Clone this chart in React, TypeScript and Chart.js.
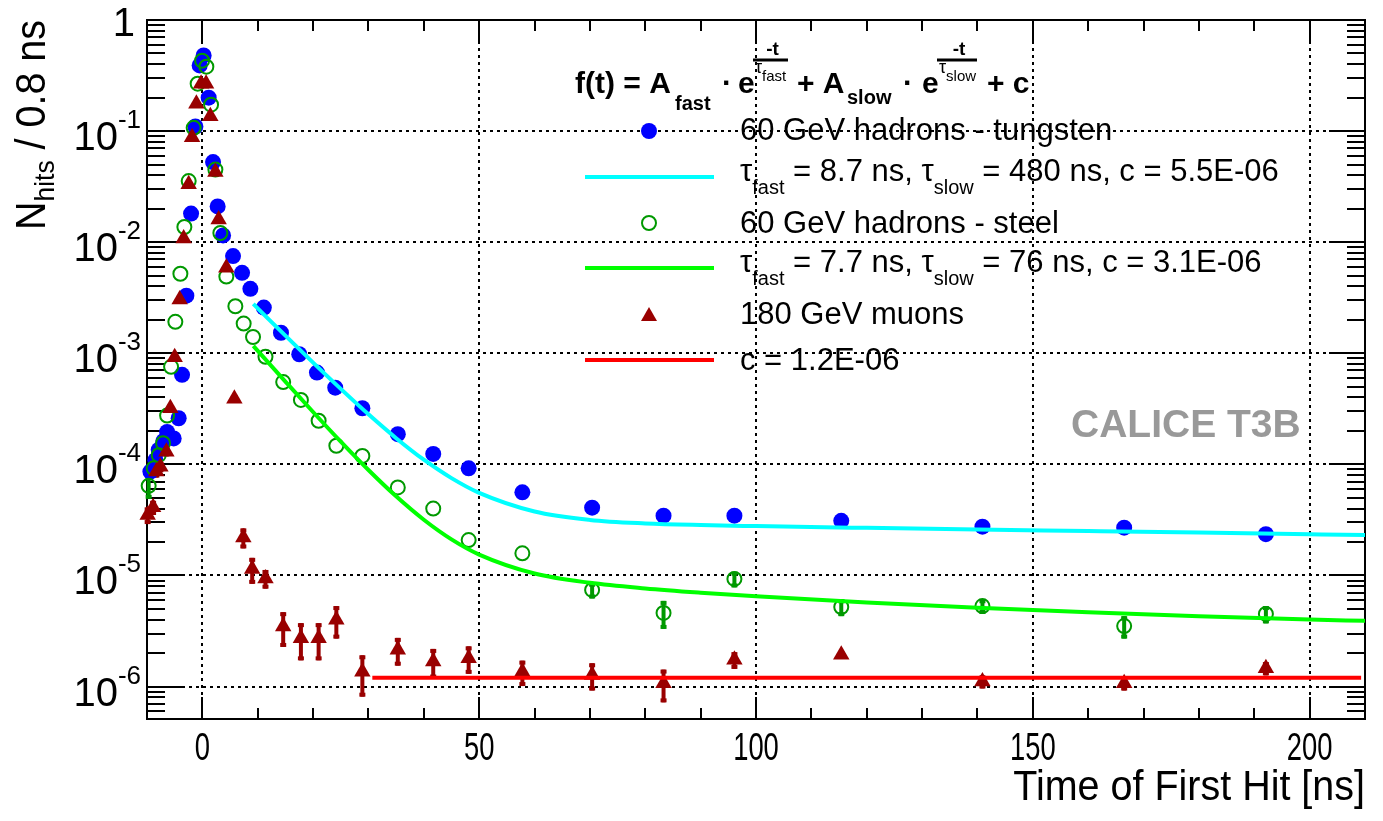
import React, { useEffect, useRef } from "react";
import { Chart, registerables } from "chart.js";

Chart.register(...registerables);

const FONT = '"Liberation Sans", Arial, Helvetica, sans-serif';

// Axis ranges and tick layout
const X_RANGE = [-10, 210];
const Y_RANGE = [5.1e-7, 1];
const X_MAJOR = [0, 50, 100, 150, 200];
const X_MINOR_STEP = 10;
const Y_DECADES = [-6, -5, -4, -3, -2, -1, 0];
const X_TITLE = "Time of First Hit [ns]";
const Y_TITLE_MAIN = "N";
const Y_TITLE_SUB = "hits";
const Y_TITLE_REST = " / 0.8 ns";

// 60 GeV hadrons - tungsten
const TUNGSTEN_T = [
  -9.39, -8.49, -7.89, -7.04, -6.37, -5.18, -4.28, -3.67, -2.89, -2.04, -1.26, -0.49, 0.23, 1.14, 1.93,
  2.76, 3.74, 5.54, 7.17, 8.67, 11.1, 14.2, 17.5, 20.7, 24.0, 28.9, 35.3, 41.7, 48.1, 57.8, 70.4, 83.3,
  96.1, 115.4, 140.9, 166.5, 192.1,
];
const TUNGSTEN_N = [
  8.6e-5, 1.09e-4, 1.35e-4, 1.62e-4, 1.96e-4, 1.71e-4, 2.6e-4, 6.4e-4, 3.3e-3, 0.0181, 0.11, 0.39, 0.48, 0.2,
  0.0526, 0.021, 0.0115, 7.5e-3, 5.3e-3, 3.8e-3, 2.58e-3, 1.53e-3, 9.8e-4, 6.7e-4, 4.9e-4, 3.2e-4, 1.87e-4,
  1.24e-4, 9.2e-5, 5.6e-5, 4.07e-5, 3.45e-5, 3.45e-5, 3.1e-5, 2.75e-5, 2.69e-5, 2.35e-5,
];

// 60 GeV hadrons - steel
const STEEL_T = [
  -9.7, -8.79, -7.89, -7.1, -6.37, -5.65, -4.88, -3.97, -3.25, -2.47, -1.57, -0.85, -0.05, 0.72, 1.57, 2.35,
  3.25, 4.33, 5.96, 7.46, 9.15, 11.4, 14.6, 17.8, 21.0, 24.2, 28.9, 35.3, 41.7, 48.1, 57.8, 70.4, 83.3, 96.1,
  115.4, 140.9, 166.5, 192.1,
];
const STEEL_N = [
  6.4e-5, 9.2e-5, 1.21e-4, 1.55e-4, 2.75e-4, 7.55e-4, 1.92e-3, 5.2e-3, 0.0137, 0.0355, 0.107, 0.267, 0.43,
  0.38, 0.173, 0.045, 0.0121, 4.9e-3, 2.65e-3, 1.85e-3, 1.4e-3, 9.3e-4, 5.5e-4, 3.8e-4, 2.47e-4, 1.47e-4,
  1.19e-4, 6.2e-5, 4.0e-5, 2.08e-5, 1.58e-5, 7.4e-6, 4.6e-6, 9.3e-6, 5.2e-6, 5.3e-6, 3.5e-6, 4.5e-6,
];
const STEEL_ERR = [
  1.5e-5, 0, 0, 0, 0, 0, 0, 0, 0, 0, 0, 0, 0, 0, 0, 0, 0, 0, 0, 0, 0, 0, 0, 0, 0, 0, 0, 0, 0, 0, 0,
  1.2e-6, 1.3e-6, 1.5e-6, 0.9e-6, 0.8e-6, 0.8e-6, 0.8e-6,
];

// 180 GeV muons
const MUON_T = [
  -9.88, -8.9, -8.31, -7.58, -6.5, -5.78, -5.0, -4.1, -3.38, -2.47, -1.86, -1.08, -0.23, 0.67, 1.44, 2.35,
  2.94, 4.33, 5.78, 7.4, 9.0, 11.4, 14.6, 17.8, 21.0, 24.2, 28.9, 35.3, 41.7, 48.1, 57.8, 70.4, 83.3, 96.1,
  115.4, 140.9, 166.5, 192.1,
];
const MUON_N = [
  3.5e-5, 4.1e-5, 8.6e-5, 9.5e-5, 1.3e-4, 3.2e-4, 9.2e-4, 3.05e-3, 0.0108, 0.0332, 0.088, 0.176, 0.267, 0.267,
  0.136, 0.0428, 0.016, 5.9e-3, 3.9e-4, 2.2e-5, 1.14e-5, 9.4e-6, 3.47e-6, 2.72e-6, 2.72e-6, 4.0e-6, 1.36e-6,
  2.14e-6, 1.68e-6, 1.8e-6, 1.36e-6, 1.27e-6, 1.07e-6, 1.74e-6, 1.93e-6, 1.11e-6, 1.07e-6, 1.46e-6,
];
const MUON_ERR = [
  0.6e-5, 0.6e-5, 1.0e-5, 1.0e-5, 1.2e-5, 0, 0, 0, 0, 0, 0, 0, 0, 0, 0, 0, 0, 0, 3e-5, 4.5e-6, 3.0e-6, 1.8e-6,
  1.2e-6, 1.0e-6, 1.0e-6, 1.3e-6, 0.55e-6, 0.6e-6, 0.5e-6, 0.5e-6, 0.35e-6, 0.35e-6, 0.35e-6, 0.3e-6, 0.15e-6,
  0.15e-6, 0.15e-6, 0.2e-6,
];

// Fitted curves, sampled along the fit range
const FIT_T = [9.2, 12, 15, 20, 25, 30, 35, 40, 45, 50, 60, 70, 80, 90, 100, 120, 140, 160, 180, 200, 210];
const FIT_TUNGSTEN = [
  2.78e-3, 2.02e-3, 1.44e-3, 8.24e-4, 4.78e-4, 2.82e-4, 1.72e-4, 1.1e-4, 7.51e-5, 5.53e-5, 3.76e-5, 3.16e-5,
  2.94e-5, 2.84e-5, 2.78e-5, 2.68e-5, 2.59e-5, 2.51e-5, 2.43e-5, 2.35e-5, 2.31e-5,
];
const FIT_STEEL = [
  1.165e-3, 8.14e-4, 5.56e-4, 2.96e-4, 1.6e-4, 8.89e-5, 5.15e-5, 3.17e-5, 2.11e-5, 1.54e-5, 1.04e-5, 8.58e-6,
  7.64e-6, 7.0e-6, 6.5e-6, 5.72e-6, 5.11e-6, 4.65e-6, 4.29e-6, 4.01e-6, 3.9e-6,
];
const FIT_MUON_T = [30.7, 209.3];
const FIT_MUON = [1.2e-6, 1.2e-6];

// Legend content
const LEGEND_TUNGSTEN = "60 GeV hadrons - tungsten";
const LEGEND_STEEL = "60 GeV hadrons - steel";
const LEGEND_MUON = "180 GeV muons";
const FIT_PARAMS_TUNGSTEN = ["8.7", "480", "5.5E-06"];
const FIT_PARAMS_STEEL = ["7.7", "76", "3.1E-06"];
const FIT_PARAM_MUON = "1.2E-06";
const WATERMARK = "CALICE T3B";

const COLORS = {
  tungsten: "#0000ff",
  steel: "#009900",
  muon: "#990000",
  fitTungsten: "#00ffff",
  fitSteel: "#00ff00",
  fitMuon: "#ff0000",
};

const pts = (xs: number[], ys: number[]) => xs.map((x, i) => ({ x, y: ys[i] }));

function drawErrorBars(ctx: CanvasRenderingContext2D, chart: any, xs: number[], ys: number[], errs: number[], color: string) {
  const sx = chart.scales.x;
  const sy = chart.scales.y;
  ctx.fillStyle = color;
  ctx.strokeStyle = color;
  ctx.lineWidth = 4;
  for (let i = 0; i < xs.length; i++) {
    const e = errs[i];
    if (!e) continue;
    const px = sx.getPixelForValue(xs[i]);
    const pTop = sy.getPixelForValue(ys[i] + e);
    const pBot = sy.getPixelForValue(Math.max(ys[i] - e, Y_RANGE[0]));
    ctx.beginPath();
    ctx.moveTo(px, pTop);
    ctx.lineTo(px, pBot);
    ctx.stroke();
    ctx.fillRect(px - 3, pTop, 6, 4);
    ctx.fillRect(px - 3, pBot - 4, 6, 4);
  }
}

function drawTauLine(ctx: CanvasRenderingContext2D, x: number, base: number, params: string[]) {
  const big = `31px ${FONT}`;
  const small = `20px ${FONT}`;
  const parts: [string, string, number][] = [
    ["\u03c4", big, 0],
    ["fast", small, 13],
    [` = ${params[0]} ns, `, big, 0],
    ["\u03c4", big, 0],
    ["slow", small, 13],
    [` = ${params[1]} ns, c = ${params[2]}`, big, 0],
  ];
  let cx = x;
  for (const [t, f, dy] of parts) {
    ctx.font = f;
    ctx.fillText(t, cx, base + dy);
    cx += ctx.measureText(t).width;
  }
}

function drawExpFraction(ctx: CanvasRenderingContext2D, x0: number, x1: number, sub: string) {
  ctx.font = `bold 19px ${FONT}`;
  const w = ctx.measureText("-t").width;
  ctx.fillText("-t", (x0 + x1) / 2 - w / 2 + 2, 55);
  ctx.fillRect(x0, 58.5, x1 - x0, 3);
  ctx.font = `18px ${FONT}`;
  ctx.fillText("\u03c4", x0 + 2, 73);
  const tw = ctx.measureText("\u03c4").width;
  ctx.font = `15px ${FONT}`;
  ctx.fillText(sub, x0 + 2 + tw, 81);
}

const rootStyle = {
  id: "rootStyle",
  beforeDatasetsDraw(chart: any) {
    const ctx: CanvasRenderingContext2D = chart.ctx;
    const sx = chart.scales.x;
    const sy = chart.scales.y;
    const { left, right, top, bottom } = chart.chartArea;
    ctx.save();
    ctx.strokeStyle = "#000";
    ctx.lineWidth = 2;

    // dotted grid
    ctx.setLineDash([3, 4]);
    ctx.beginPath();
    for (const v of X_MAJOR) {
      const p = Math.round(sx.getPixelForValue(v));
      ctx.moveTo(p, top);
      ctx.lineTo(p, bottom);
    }
    for (const d of Y_DECADES) {
      const p = Math.round(sy.getPixelForValue(Math.pow(10, d)));
      if (p > top + 2 && p < bottom - 2) {
        ctx.moveTo(left, p);
        ctx.lineTo(right, p);
      }
    }
    ctx.stroke();
    ctx.setLineDash([]);

    // ticks on all four sides
    ctx.beginPath();
    const nx = Math.round((X_RANGE[1] - X_RANGE[0]) / X_MINOR_STEP);
    for (let i = 0; i <= nx; i++) {
      const v = X_RANGE[0] + i * X_MINOR_STEP;
      const p = Math.round(sx.getPixelForValue(v));
      const len = X_MAJOR.includes(v) ? 22 : 11;
      ctx.moveTo(p, bottom);
      ctx.lineTo(p, bottom - len);
      ctx.moveTo(p, top);
      ctx.lineTo(p, top + len);
    }
    for (let d = -7; d <= 0; d++) {
      for (let k = 1; k <= 9; k++) {
        const v = k * Math.pow(10, d);
        if (v < Y_RANGE[0] || v > Y_RANGE[1]) continue;
        const p = Math.round(sy.getPixelForValue(v));
        const len = k === 1 ? 36 : 18;
        ctx.moveTo(left, p);
        ctx.lineTo(left + len, p);
        ctx.moveTo(right, p);
        ctx.lineTo(right - len, p);
      }
    }
    ctx.stroke();
    ctx.strokeRect(left, top, right - left, bottom - top);

    drawErrorBars(ctx, chart, STEEL_T, STEEL_N, STEEL_ERR, COLORS.steel);
    drawErrorBars(ctx, chart, MUON_T, MUON_N, MUON_ERR, COLORS.muon);
    ctx.restore();
  },
  afterDraw(chart: any) {
    const ctx: CanvasRenderingContext2D = chart.ctx;
    const sx = chart.scales.x;
    const sy = chart.scales.y;
    const { left, right, top, bottom } = chart.chartArea;
    ctx.save();
    ctx.fillStyle = "#000";
    ctx.textBaseline = "alphabetic";

    // x tick labels (narrow)
    ctx.font = `38px ${FONT}`;
    ctx.textAlign = "center";
    for (const v of X_MAJOR) {
      ctx.save();
      ctx.translate(sx.getPixelForValue(v), bottom + 41);
      ctx.scale(0.72, 1);
      ctx.fillText(String(v), 0, 0);
      ctx.restore();
    }

    // y tick labels as powers of ten
    ctx.textAlign = "left";
    for (const d of Y_DECADES) {
      const p = sy.getPixelForValue(Math.pow(10, d));
      if (d === 0) {
        ctx.font = `40px ${FONT}`;
        const w = ctx.measureText("1").width;
        ctx.fillText("1", left - 12 - w, p + 16);
        continue;
      }
      ctx.font = `40px ${FONT}`;
      const wb = ctx.measureText("10").width;
      ctx.font = `26px ${FONT}`;
      const exp = String(d);
      const we = ctx.measureText(exp).width;
      const x0 = left - 6 - wb - we;
      ctx.font = `40px ${FONT}`;
      ctx.fillText("10", x0, p + 19);
      ctx.font = `26px ${FONT}`;
      ctx.fillText(exp, x0 + wb, p - 3);
    }

    // x title
    ctx.font = `42px ${FONT}`;
    ctx.textAlign = "right";
    ctx.save();
    ctx.translate(right, bottom + 81);
    ctx.scale(0.94, 1);
    ctx.fillText(X_TITLE, 0, 0);
    ctx.restore();

    // y title, rotated
    ctx.textAlign = "left";
    ctx.font = `42px ${FONT}`;
    const wN = ctx.measureText(Y_TITLE_MAIN).width;
    const wR = ctx.measureText(Y_TITLE_REST).width;
    ctx.font = `28px ${FONT}`;
    const wS = ctx.measureText(Y_TITLE_SUB).width;
    const sq = 0.94;
    const total = (wN + wS + wR) * sq;
    ctx.save();
    ctx.translate(45, top + total);
    ctx.rotate(-Math.PI / 2);
    ctx.scale(sq, 1);
    ctx.font = `42px ${FONT}`;
    ctx.fillText(Y_TITLE_MAIN, 0, 0);
    ctx.font = `28px ${FONT}`;
    ctx.fillText(Y_TITLE_SUB, wN, 9);
    ctx.font = `42px ${FONT}`;
    ctx.fillText(Y_TITLE_REST, wN + wS, 0);
    ctx.restore();

    // legend header: fit function
    ctx.font = `bold 30px ${FONT}`;
    ctx.fillText("f(t) = A", 575, 93);
    ctx.font = `bold 20px ${FONT}`;
    ctx.fillText("fast", 675, 110);
    ctx.font = `bold 30px ${FONT}`;
    ctx.fillText("\u00b7", 722, 93);
    ctx.fillText("e", 738, 93);
    drawExpFraction(ctx, 753, 788, "fast");
    ctx.font = `bold 30px ${FONT}`;
    ctx.fillText("+ A", 797, 93);
    ctx.font = `bold 20px ${FONT}`;
    ctx.fillText("slow", 847, 104);
    ctx.font = `bold 30px ${FONT}`;
    ctx.fillText("\u00b7", 903, 93);
    ctx.fillText("e", 922, 93);
    drawExpFraction(ctx, 937, 977, "slow");
    ctx.font = `bold 30px ${FONT}`;
    ctx.fillText("+ c", 987, 93);

    // legend symbols
    const mx = 649;
    ctx.fillStyle = COLORS.tungsten;
    ctx.beginPath();
    ctx.arc(mx, 131, 8, 0, Math.PI * 2);
    ctx.fill();
    ctx.lineWidth = 4;
    ctx.strokeStyle = COLORS.fitTungsten;
    ctx.beginPath();
    ctx.moveTo(585, 177);
    ctx.lineTo(714, 177);
    ctx.stroke();
    ctx.lineWidth = 2;
    ctx.strokeStyle = COLORS.steel;
    ctx.beginPath();
    ctx.arc(mx, 223, 7, 0, Math.PI * 2);
    ctx.stroke();
    ctx.lineWidth = 4;
    ctx.strokeStyle = COLORS.fitSteel;
    ctx.beginPath();
    ctx.moveTo(585, 268);
    ctx.lineTo(714, 268);
    ctx.stroke();
    ctx.fillStyle = COLORS.muon;
    ctx.beginPath();
    ctx.moveTo(mx, 307);
    ctx.lineTo(mx + 8, 321);
    ctx.lineTo(mx - 8, 321);
    ctx.closePath();
    ctx.fill();
    ctx.strokeStyle = COLORS.fitMuon;
    ctx.beginPath();
    ctx.moveTo(585, 360);
    ctx.lineTo(714, 360);
    ctx.stroke();

    // legend text
    ctx.fillStyle = "#000";
    ctx.font = `31px ${FONT}`;
    ctx.fillText(LEGEND_TUNGSTEN, 740, 140);
    drawTauLine(ctx, 740, 181, FIT_PARAMS_TUNGSTEN);
    ctx.font = `31px ${FONT}`;
    ctx.fillText(LEGEND_STEEL, 740, 233);
    drawTauLine(ctx, 740, 272, FIT_PARAMS_STEEL);
    ctx.font = `31px ${FONT}`;
    ctx.fillText(LEGEND_MUON, 740, 324);
    ctx.fillText(`c = ${FIT_PARAM_MUON}`, 740, 370);

    // experiment label
    ctx.fillStyle = "#999999";
    ctx.font = `bold 39px ${FONT}`;
    ctx.fillText(WATERMARK, 1071, 437);
    ctx.restore();
  },
};

export default function App() {
  const ref = useRef<HTMLCanvasElement | null>(null);

  useEffect(() => {
    if (!ref.current) return;
    const chart = new Chart(ref.current, {
      type: "scatter",
      data: {
        datasets: [
          {
            label: LEGEND_TUNGSTEN,
            data: pts(TUNGSTEN_T, TUNGSTEN_N),
            pointStyle: "circle",
            pointRadius: 8,
            pointBackgroundColor: COLORS.tungsten,
            pointBorderWidth: 0,
            showLine: false,
            clip: false,
            order: 6,
          },
          {
            label: "fit tungsten",
            data: pts(FIT_T, FIT_TUNGSTEN),
            showLine: true,
            borderColor: COLORS.fitTungsten,
            borderWidth: 4,
            pointRadius: 0,
            cubicInterpolationMode: "monotone",
            order: 5,
          },
          {
            label: LEGEND_STEEL,
            data: pts(STEEL_T, STEEL_N),
            pointStyle: "circle",
            pointRadius: 7,
            pointBackgroundColor: "rgba(0,0,0,0)",
            pointBorderColor: COLORS.steel,
            pointBorderWidth: 2,
            showLine: false,
            clip: false,
            order: 4,
          },
          {
            label: "fit steel",
            data: pts(FIT_T, FIT_STEEL),
            showLine: true,
            borderColor: COLORS.fitSteel,
            borderWidth: 4,
            pointRadius: 0,
            cubicInterpolationMode: "monotone",
            order: 3,
          },
          {
            label: LEGEND_MUON,
            data: pts(MUON_T, MUON_N),
            pointStyle: "triangle",
            pointRadius: 9.5,
            pointBackgroundColor: COLORS.muon,
            pointBorderWidth: 0,
            showLine: false,
            clip: false,
            order: 2,
          },
          {
            label: "fit muons",
            data: pts(FIT_MUON_T, FIT_MUON),
            showLine: true,
            borderColor: COLORS.fitMuon,
            borderWidth: 4,
            pointRadius: 0,
            order: 1,
          },
        ],
      },
      options: {
        animation: false,
        responsive: false,
        events: [],
        layout: { padding: { left: 147, right: 18, top: 20, bottom: 102 } },
        plugins: {
          legend: { display: false },
          tooltip: { enabled: false },
          title: { display: false },
        },
        scales: {
          x: { type: "linear", min: X_RANGE[0], max: X_RANGE[1], display: false },
          y: { type: "logarithmic", min: Y_RANGE[0], max: Y_RANGE[1], display: false },
        },
      },
      plugins: [rootStyle],
    } as any);
    return () => chart.destroy();
  }, []);

  return (
    <div style={{ position: "absolute", left: 0, top: 0, width: 1383, height: 821, background: "#fff" }}>
      <canvas ref={ref} width={1383} height={821} style={{ display: "block", width: 1383, height: 821 }} />
    </div>
  );
}
